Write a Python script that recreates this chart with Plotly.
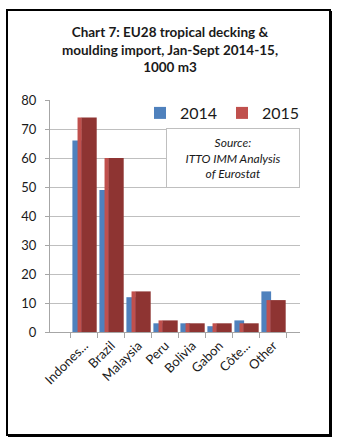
import plotly.graph_objects as go

# ---- data ----
categories = ["Indones...", "Brazil", "Malaysia", "Peru", "Bolivia", "Gabon", "Côte...", "Other"]
values_2014 = [66, 49, 12, 3, 3, 2, 4, 14]
values_2015 = [74, 60, 14, 4, 3, 3, 3, 11]
series_names = ["2014", "2015"]
y_ticks = [0, 10, 20, 30, 40, 50, 60, 70, 80]

W, H = 343, 446
L, R, T, B = 50, 300, 100, 332  # plot area in pixels


def px_x(p):
    return (p - L) / (R - L)


def px_y(p):
    return (B - p) / (B - T)


BLUE = "#4f81bd"
RED = "#c0504d"
DARK_RED = "#8e3432"

fig = go.Figure()
fig.add_trace(go.Bar(
    x=categories, y=values_2014, name=series_names[0],
    marker=dict(color=BLUE, line=dict(width=0)),
    offset=-0.44, width=0.36,
))
fig.add_trace(go.Bar(
    x=categories, y=values_2015, name=series_names[1],
    marker=dict(color=RED, line=dict(width=0)),
    offset=-0.25, width=0.16,
))
fig.add_trace(go.Bar(
    x=categories, y=values_2015, name=series_names[1], showlegend=False,
    marker=dict(color=DARK_RED, line=dict(width=0)),
    offset=-0.10, width=0.56,
))

fig.update_layout(
    width=W, height=H,
    margin=dict(l=L, r=W - R, t=T, b=H - B, pad=0),
    paper_bgcolor="white", plot_bgcolor="white",
    barmode="overlay",
    font=dict(family="Lato, Liberation Sans, sans-serif", color="#000000"),
    title=dict(
        text="<b>Chart 7: EU28 tropical decking &amp;<br>moulding import, Jan-Sept 2014-15,<br>1000 m3</b>",
        font=dict(size=13.5, family="Lato, Liberation Sans, sans-serif", color="#1a1a1a"),
        x=170 / W, xref="container", xanchor="center",
        y=1 - 37 / H, yref="container", yanchor="top",
    ),
    showlegend=True,
    legend=dict(
        orientation="h", x=px_x(140), y=px_y(96), xanchor="left", yanchor="top",
        font=dict(size=16, color="#1a1a1a"), bgcolor="rgba(0,0,0,0)",
        itemwidth=30, traceorder="normal",
        entrywidth=37, entrywidthmode="pixels",
    ),
    xaxis=dict(
        type="category", range=[-1.27, 7.99],
        showgrid=False, showline=True, linecolor="#a6a6a6", linewidth=1,
        ticks="outside", ticklen=5, tickcolor="#a6a6a6", tickson="boundaries",
        tickangle=-45, tickfont=dict(size=13, color="#1a1a1a"),
        zeroline=False,
    ),
    yaxis=dict(
        range=[0, 80], tickvals=y_ticks, showgrid=True, gridcolor="#bfbfbf", gridwidth=1,
        showline=True, linecolor="#a6a6a6", linewidth=1,
        ticks="outside", ticklen=4, tickcolor="#a6a6a6",
        tickfont=dict(size=13, color="#1a1a1a"), ticklabelstandoff=6,
        zeroline=False,
    ),
    shapes=[
        dict(type="rect", xref="paper", yref="paper",
             x0=px_x(7), x1=px_x(330), y0=px_y(10), y1=px_y(435),
             line=dict(color="black", width=2)),
        dict(type="line", xref="paper", yref="paper",
             x0=px_x(330.5), x1=px_x(330.5), y0=px_y(11), y1=px_y(436.5),
             line=dict(color="black", width=3)),
        dict(type="line", xref="paper", yref="paper",
             x0=px_x(8), x1=px_x(332), y0=px_y(435.5), y1=px_y(435.5),
             line=dict(color="black", width=3)),
    ],
    annotations=[
        dict(
            xref="paper", yref="paper", x=px_x(233), y=px_y(157.5),
            xanchor="center", yanchor="middle", showarrow=False,
            text="<i>Source:<br>ITTO IMM Analysis<br>of Eurostat</i>",
            font=dict(size=12, color="#1a1a1a"),
            bordercolor="#bfbfbf", borderwidth=1, borderpad=6,
            bgcolor="white", width=120, align="center",
        )
    ],
)

fig.write_html("out.html")
